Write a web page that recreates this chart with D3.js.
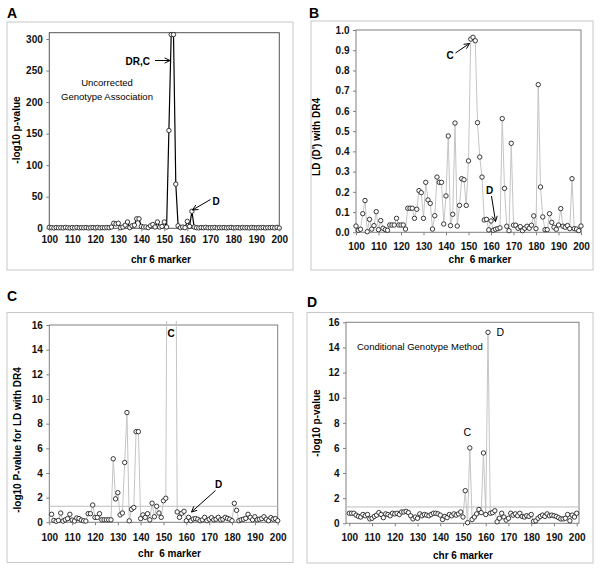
<!DOCTYPE html>
<html><head><meta charset="utf-8">
<script src="https://cdn.jsdelivr.net/npm/d3@7"></script>
<style>body{margin:0;background:#fff} svg{display:block} text{font-family:"Liberation Sans",Arial,sans-serif}</style>
</head><body><svg id="c" width="600" height="568"></svg>
<script>
const markers = [100,101,102,103,104,105,106,107,108,109,110,111,112,113,114,115,116,117,118,119,120,121,122,123,124,125,126,127,128,129,130,131,132,133,134,135,136,137,138,139,140,141,142,143,144,145,146,147,148,149,150,151,152,153,154,155,156,157,158,159,160,161,162,163,164,165,166,167,168,169,170,171,172,173,174,175,176,177,178,179,180,181,182,183,184,185,186,187,188,189,190,191,192,193,194,195,196,197,198,199,200];

// A: uncorrected genotype association, -log10 p
const valuesA = [1.5,1,0.5,1.2,0.8,1,0.6,1.4,0.9,0.5,1.1,0.7,1.3,0.6,1,0.8,1.2,0.5,0.9,1.1,0.7,1.4,0.6,1,0.8,1.2,0.9,
 2,8,7,8,1,2,5,10,1,4,5,15,15,3,2,2,1,4,6,2,10,2,3,10,2,155,307,307,70,4,1,2,1,11,3,27,
 2,1,0.6,1.2,0.8,1.5,0.7,1,0.9,1.3,0.5,1.1,0.8,1.2,0.6,1,1.4,0.7,0.9,1.1,0.5,1.2,0.8,1,0.6,1.3,0.9,0.7,1.1,0.8,1.2,0.6,1,0.9,1.3,0.7,1.5,0.4];

// B: LD (D') with DR4
const valuesB = [0.031,0.01,0.015,0.092,0.157,0.003,0.064,0.016,0.033,0.102,
 0.013,0.058,0.02,0.013,0.01,0.036,0.036,0.036,0.069,0.036,
 0.036,0.036,0.016,0.119,0.119,0.119,0.069,0.114,0.206,0.196,
 0.069,0.247,0.16,0.143,0.016,0.082,0.273,0.247,0.247,0.041,
 0.18,0.476,0.033,0.089,0.54,0.031,0.133,0.265,0.26,0.133,
 0.353,0.955,0.964,0.947,0.542,0.372,0.273,0.061,0.064,0.012,
 0.056,0.01,0.015,0.018,0.022,0.562,0.217,0.03,0.008,0.44,
 0.035,0.035,0.02,0.028,0.008,0.02,0.03,0.02,0.035,0.081,
 0.018,0.73,0.224,0.076,0.013,0.013,0.092,0.049,0.025,0.015,
 0.036,0.117,0.03,0.025,0.033,0.018,0.265,0.018,0.016,0.008,
 0.031];

// C: -log10 P-value for LD with DR4 (152-155 are far off scale)
const valuesC = [null,0.65,0.15,0.08,0.15,0.75,0.1,0.2,0.3,0.65,0.18,
 0.1,0.35,0.3,0.18,0.12,0.1,0.7,0.7,1.4,0.4,
 0.4,0.7,0.2,0.2,0.2,0.2,0.2,5.15,1.9,2.4,
 0.6,0.75,4.85,8.9,0.12,1.05,1.2,7.35,7.35,0.3,
 0.6,0.4,0.7,0.2,1.55,0.45,1.3,0.75,0.4,1.75,
 1.95,40,40,40,40,0.84,0.4,0.73,0.89,0.13,
 0.4,0.13,0.27,0.3,0.25,0.13,0.2,0.4,0.13,0.25,
 0.38,0.2,0.25,0.4,0.2,0.25,0.4,0.32,0.25,0.13,
 1.54,0.97,0.13,0.2,0.25,0.32,0.65,0.4,0.2,0.45,
 0.2,0.25,0.3,0.45,0.25,0.13,0.38,0.25,0.3,0.13];

// D: conditional genotype method, -log10 p
const valuesD = [0.8,0.8,0.8,0.65,0.55,0.5,0.7,0.6,0.7,0.35,
 0.4,0.55,0.65,0.85,0.7,0.45,0.75,0.7,0.6,0.8,
 0.75,0.8,0.7,0.9,0.9,0.95,0.85,0.6,0.35,0.5,
 0.4,0.75,0.6,0.7,0.65,0.6,0.7,0.8,0.8,0.75,
 0.65,0.3,0.55,0.45,0.7,0.6,0.75,0.65,0.75,0.9,
 0.5,2.6,0.05,6.0,0.3,0.5,0.75,1.1,0.85,5.6,
 0.7,15.2,0.8,0.85,1.0,0.12,0.4,0.8,0.5,0.25,
 0.4,0.8,0.65,0.75,0.6,0.8,0.55,0.5,0.6,0.55,
 0.7,0.15,0.2,0.4,0.55,0.65,0.55,0.75,0.6,0.65,
 0.6,0.55,0.45,0.35,0.35,0.4,0.7,0.2,0.65,0.5,
 0.8];

const xTickLabels = [100,110,120,130,140,150,160,170,180,190,200];
const yTicksA = [0,50,100,150,200,250,300];
const yTicksB = [0,0.1,0.2,0.3,0.4,0.5,0.6,0.7,0.8,0.9,1.0];
const yTicksCD = [0,2,4,6,8,10,12,14,16];
const significance = [1.3];

const svg = d3.select('#c');
svg.append('rect').attr('width',600).attr('height',568).attr('fill','#fff');
const defs = svg.append('defs');

function arrow(g, x1, y1, x2, y2, color) {
  g.append('line').attr('x1',x1).attr('y1',y1).attr('x2',x2).attr('y2',y2)
    .attr('stroke',color).attr('stroke-width',1);
  const a = Math.atan2(y2-y1, x2-x1), L = 6, s = 0.45;
  const p = [[x2 - L*Math.cos(a - s), y2 - L*Math.sin(a - s)], [x2, y2], [x2 - L*Math.cos(a + s), y2 - L*Math.sin(a + s)]];
  g.append('path').attr('d', d3.line()(p)).attr('fill','none').attr('stroke',color).attr('stroke-width',1);
}

function panel(cfg) {
  const g = svg.append('g');
  const f = cfg.frame;
  g.append('rect').attr('x',f[0]).attr('y',f[1]).attr('width',f[2]-f[0]).attr('height',f[3]-f[1])
    .attr('fill','none').attr('stroke','#c8c8c8').attr('stroke-width',1);
  g.append('text').attr('x',cfg.letter[0]).attr('y',cfg.letter[1]).text(cfg.key)
    .attr('font-size',14).attr('font-weight','bold');

  const x = d3.scaleLinear().domain([100,200]).range([cfg.l, cfg.r]);
  const y = d3.scaleLinear().domain([0, cfg.yMax]).range([cfg.b, cfg.t]);
  const bl = cfg.boxL !== undefined ? cfg.boxL : cfg.l;
  const br = cfg.boxR !== undefined ? cfg.boxR : cfg.r;

  g.append('rect').attr('x',bl).attr('y',y(cfg.yMax)).attr('width',br-bl).attr('height',cfg.b-y(cfg.yMax))
    .attr('fill','none').attr('stroke',cfg.boxColor).attr('stroke-width',1);

  if (cfg.threshold) {
    g.selectAll('line.thr').data(significance).join('line').attr('class','thr')
      .attr('x1',bl).attr('x2',br).attr('y1',d=>y(d)).attr('y2',d=>y(d))
      .attr('stroke','#bdbdbd').attr('stroke-width',1);
  }

  const data = markers.map((m,i)=>({m, v: cfg.values[i]})).filter(d=>d.v !== null);
  const cid = 'clip' + cfg.key;
  defs.append('clipPath').attr('id',cid).append('rect')
    .attr('x',bl-4).attr('y',y(cfg.yMax)-4).attr('width',br-bl+8).attr('height',cfg.b-y(cfg.yMax)+10);

  g.append('path').datum(data).attr('clip-path',`url(#${cid})`)
    .attr('d', d3.line().x(d=>x(d.m)).y(d=>y(d.v)))
    .attr('fill','none').attr('stroke',cfg.lineColor).attr('stroke-width',cfg.lineWidth);

  g.selectAll('circle.pt').data(data.filter(d=>d.v <= cfg.yMax)).join('circle').attr('class','pt')
    .attr('cx',d=>x(d.m)).attr('cy',d=>y(d.v)).attr('r',2.2)
    .attr('fill','#fff').attr('stroke','#222').attr('stroke-width',0.9);

  const ya = g.append('g').attr('transform',`translate(${bl},0)`)
    .call(d3.axisLeft(y).tickValues(cfg.yTicks).tickSize(3).tickPadding(3.5).tickFormat(cfg.fmt));
  const xa = g.append('g').attr('transform',`translate(0,${cfg.b})`)
    .call(d3.axisBottom(x).tickValues(xTickLabels).tickSize(3).tickPadding(cfg.xpad));
  [ya, xa].forEach(a => {
    a.select('.domain').remove();
    a.selectAll('.tick line').attr('stroke','#808080');
    a.selectAll('.tick text').attr('font-size',10).attr('fill','#111').attr('font-weight','bold')
      .attr('font-family','"Liberation Sans",Arial,sans-serif');
  });

  g.append('text').attr('x',cfg.xTitle[0]).attr('y',cfg.xTitle[1]).attr('text-anchor','middle')
    .attr('font-size',10).attr('font-weight','bold').attr('xml:space','preserve').text(cfg.xTitleText);
  g.append('text').attr('transform',`translate(${cfg.yTitle[0]},${cfg.yTitle[1]}) rotate(-90)`)
    .attr('text-anchor','middle').attr('font-size',10).attr('font-weight','bold').text(cfg.yTitleText);
  return {g, x, y};
}

// Panel A
const A = panel({key:'A', values:valuesA, frame:[7,22,293,270], letter:[7,18],
  l:49.3, r:279.3, t:32.7, b:228.3, yMax:310, yTicks:yTicksA, fmt:d3.format('d'),
  boxColor:'#555', lineColor:'#000', lineWidth:1.2, xpad:5,
  xTitle:[161,263], xTitleText:'chr 6 marker', yTitle:[20,130], yTitleText:'-log10 p-value'});
A.g.append('text').attr('x',107).attr('y',86).attr('text-anchor','middle').attr('font-size',9.5).text('Uncorrected');
A.g.append('text').attr('x',107).attr('y',99.5).attr('text-anchor','middle').attr('font-size',9.5).text('Genotype Association');
A.g.append('text').attr('x',150).attr('y',64.5).attr('text-anchor','end').attr('font-size',10).attr('font-weight','bold').text('DR,C');
arrow(A.g, 155, 60.5, 170, 60.5, '#000');
A.g.append('text').attr('x',212.5).attr('y',204.5).attr('font-size',10).attr('font-weight','bold').text('D');
arrow(A.g, 210.5, 199.5, 192.5, 210, '#000');

// Panel B
const B = panel({key:'B', values:valuesB, frame:[311,21,593,270], letter:[309,18],
  l:356, r:581, t:30, b:232.3, yMax:1.0, yTicks:yTicksB, fmt:d3.format('.1f'),
  boxColor:'#808080', lineColor:'#c4c4c4', lineWidth:1, xpad:7.5,
  xTitle:[480,263], xTitleText:'chr  6 marker', yTitle:[320,137], yTitleText:"LD (D') with DR4"});
B.g.append('text').attr('x',450).attr('y',59).attr('text-anchor','middle').attr('font-size',10).attr('font-weight','bold').text('C');
arrow(B.g, 455.5, 53, 469.5, 43.5, '#000');
B.g.append('text').attr('x',489.5).attr('y',193.5).attr('text-anchor','middle').attr('font-size',10).attr('font-weight','bold').text('D');
arrow(B.g, 491.5, 196, 495.5, 221.5, '#000');

// Panel C
const C = panel({key:'C', values:valuesC, frame:[7,312.5,293,562.5], letter:[7,301],
  l:49.3, r:277.7, t:325, b:522.3, yMax:16, yTicks:yTicksCD, fmt:d3.format('d'),
  boxColor:'#808080', lineColor:'#c4c4c4', lineWidth:1, xpad:9, threshold:true,
  xTitle:[169.5,557], xTitleText:'chr  6 marker', yTitle:[20.5,440], yTitleText:'-log10 P-value for LD with DR4'});
C.g.append('text').attr('x',171).attr('y',337).attr('text-anchor','middle').attr('font-size',10).attr('font-weight','bold').text('C');
C.g.append('text').attr('x',218.7).attr('y',487.5).attr('text-anchor','middle').attr('font-size',10).attr('font-weight','bold').text('D');
arrow(C.g, 215.5, 490.5, 191.5, 512, '#000');

// Panel D
const D = panel({key:'D', values:valuesD, frame:[307,312.5,593,563], letter:[307,307],
  l:349.3, r:576.7, t:322.3, b:523.3, yMax:16, yTicks:yTicksCD, fmt:d3.format('d'),
  boxL:346, boxR:579, boxColor:'#808080', lineColor:'#c4c4c4', lineWidth:1, xpad:8, threshold:true,
  xTitle:[463,559], xTitleText:'chr 6 marker', yTitle:[320,423], yTitleText:'-log10 p-value'});
D.g.append('text').attr('x',357).attr('y',350).attr('font-size',9.5).text('Conditional Genotype Method');
D.g.append('text').attr('x',467.3).attr('y',436).attr('text-anchor','middle').attr('font-size',10.5).text('C');
D.g.append('text').attr('x',500.3).attr('y',336).attr('text-anchor','middle').attr('font-size',10.5).text('D');
</script></body></html>
